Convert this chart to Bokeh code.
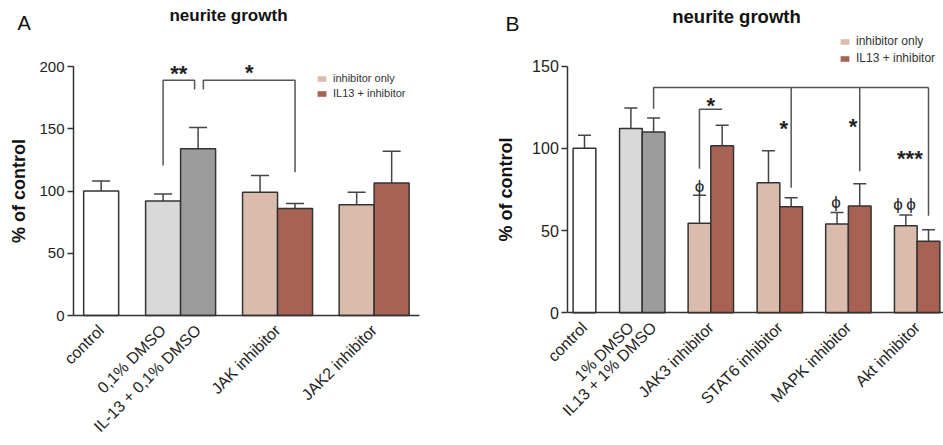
import math
from bokeh.plotting import figure
from bokeh.models import (ColumnDataSource, Whisker, TeeHead, Label, Legend, LegendItem,
                          FixedTicker, Range1d, CDSView, GroupFilter)
from bokeh.layouts import row
from bokeh.embed import file_html
from bokeh.resources import INLINE
from bokeh.core.properties import value

FONT = "Liberation Sans"

# ---------------- data: panel A ----------------
a_tick_labels = ["control", "0,1% DMSO", "IL-13 + 0,1% DMSO", "JAK inhibitor", "JAK2 inhibitor"]
a_means = [100, 92, 134, 99, 86, 89, 106.5]
a_sem = [8, 5.5, 17, 13.5, 4, 10, 25.5]
a_kind = ["control", "dmso", "il13_dmso", "inh", "il13_inh", "inh", "il13_inh"]
# significance brackets (bar index left, bar index right, top, left foot, right foot)
a_br_left = [1, 2]
a_br_right = [2, 4]
a_br_top = [189, 189]
a_br_left_foot = [120.5, 181.5]
a_br_right_foot = [181.5, 115]
a_sig_text = ["**", "*"]
a_sig_y = [194, 195]

# ---------------- data: panel B ----------------
b_tick_labels = ["control", "1% DMSO", "IL13 + 1% DMSO", "JAK3 inhibitor",
                 "STAT6 inhibitor", "MAPK inhibitor", "Akt inhibitor"]
b_means = [100, 112, 110, 54.5, 101.5, 79, 64.5, 54, 65, 53, 43.5]
b_sem = [8, 12.5, 8.5, 17, 12.5, 19.5, 5.5, 7, 13.5, 6.5, 7]
b_kind = ["control", "dmso", "il13_dmso", "inh", "il13_inh", "inh", "il13_inh",
          "inh", "il13_inh", "inh", "il13_inh"]
# long bracket from IL13+DMSO to the IL13+inhibitor bars
b_long_top = 137
b_long_from = 2
b_long_from_foot = 124
b_long_drop_bars = [6, 8, 10]
b_long_drop_feet = [76, 86, 59]
# JAK3 bracket
b_jak_bars = [3, 4]
b_jak_foot = 87.6
b_jak_top = 123.7
b_sig_text = ["*", "*", "*", "***"]
b_sig_bar = [3, 6, 8, 10]
b_sig_y = [126, 112, 113, 94]
b_phi_text = ["\u03d5", "\u03d5", "\u03d5\u2009\u03d5"]
b_phi_bar = [3, 7, 9]
b_phi_y = [77, 67, 66]

legend_labels = ["inhibitor only", "IL13 + inhibitor"]

# ---------------- styles / layout ----------------
COLORS = {"control": "#ffffff", "dmso": "#d9d9d9", "il13_dmso": "#9b9c9b",
          "inh": "#dbbcac", "il13_inh": "#a86253"}
EDGE = "#333333"
BR = "#555555"

a_x = [0.79, 2.56, 3.56, 5.33, 6.33, 8.09, 9.09]
a_ticks = [a_x[0], a_x[1], a_x[2], (a_x[3] + a_x[4]) / 2, (a_x[5] + a_x[6]) / 2]
b_x = [0.735, 2.78, 3.78, 5.80, 6.80, 8.84, 9.84, 11.86, 12.86, 14.89, 15.89]
b_ticks = [b_x[0], b_x[1], b_x[2]] + [(b_x[i] + b_x[i + 1]) / 2 for i in (3, 5, 7, 9)]

HEIGHT = 445


def make_panel(width, axis_px, axis_y, axis_len_px, bar_px, y_scale, ybounds, yticks,
               xs, means, sems, kinds, ticks, tick_labels, cap, ytick_size, xtick_size):
    # the frame covers the whole figure; both axes are pinned at 0
    x_axis_end = axis_len_px / bar_px
    p = figure(width=width, height=HEIGHT, output_backend="svg", toolbar_location=None,
               x_range=Range1d(-axis_px / bar_px, (width - axis_px) / bar_px),
               y_range=Range1d(-(HEIGHT - axis_y) / y_scale, axis_y / y_scale),
               min_border_left=0, min_border_right=0, min_border_top=0, min_border_bottom=0)
    p.outline_line_color = None
    p.grid.visible = False
    p.background_fill_color = "white"
    src = ColumnDataSource(dict(x=xs, top=means, upper=[m + s for m, s in zip(means, sems)],
                                color=[COLORS[k] for k in kinds], kind=kinds))
    p.vbar(x="x", top="top", width=1.0, bottom=0, source=src, fill_color="color",
           line_color=EDGE, line_width=1.5)
    w = Whisker(base="x", lower="top", upper="upper", source=src, dimension="height",
                line_color="#444444", line_width=1.5,
                upper_head=TeeHead(size=cap, line_color="#444444", line_width=1.5),
                lower_head=None)
    p.add_layout(w)

    # axes
    ya = p.yaxis[0]
    ya.fixed_location = 0
    ya.bounds = ybounds
    ya.ticker = FixedTicker(ticks=yticks)
    ya.minor_tick_line_color = None
    ya.major_tick_in = 0
    ya.major_tick_out = 6
    ya.axis_line_width = 1.5
    ya.axis_line_color = EDGE
    ya.major_tick_line_color = EDGE
    ya.major_tick_line_width = 1.5
    ya.major_label_text_font = FONT
    ya.major_label_text_font_size = ytick_size
    ya.major_label_text_color = "#222222"
    ya.major_label_standoff = 3
    ya.axis_label = "% of control"
    ya.axis_label_text_font = FONT
    ya.axis_label_text_font_style = "bold"
    ya.axis_label_text_font_size = "18px"
    ya.axis_label_text_color = "#111111"

    xa = p.xaxis[0]
    xa.fixed_location = 0
    xa.bounds = (0, x_axis_end)
    xa.ticker = FixedTicker(ticks=ticks)
    xa.major_label_overrides = {t: l for t, l in zip(ticks, tick_labels)}
    xa.major_label_orientation = math.pi / 4
    xa.major_tick_in = 0
    xa.major_tick_out = 0
    xa.minor_tick_line_color = None
    xa.axis_line_width = 1.5
    xa.axis_line_color = EDGE
    xa.major_label_text_font = FONT
    xa.major_label_text_font_size = xtick_size
    xa.major_label_text_color = "#222222"
    xa.major_label_standoff = 12
    return p, src


def add_text(p, xs, ys, texts, size, bold=True, color="#222222"):
    p.text(x=xs, y=ys, text=texts, text_font=value(FONT), text_font_size=size,
           text_font_style="bold" if bold else "normal", text_color=color,
           text_align="center", text_baseline="middle")


def add_legend(p, src, loc, size):
    rs = []
    for k in ("inh", "il13_inh"):
        r = p.vbar(x="x", top="top", width=1.0, source=src,
                   view=CDSView(filter=GroupFilter(column_name="kind", group=k)),
                   fill_color=COLORS[k], line_color=None)
        r.visible = False
        rs.append(r)
    lg = Legend(items=[LegendItem(label=legend_labels[0], renderers=[rs[0]]),
                       LegendItem(label=legend_labels[1], renderers=[rs[1]])],
                location=loc, orientation="vertical", padding=0, margin=0, spacing=3,
                glyph_width=11, glyph_height=7, label_height=10, label_standoff=6,
                label_text_font=FONT, label_text_font_size=size, label_text_color="#333333",
                inactive_fill_alpha=0, border_line_color=None, background_fill_alpha=0)
    p.add_layout(lg)


def add_label(p, x, page_y, text, size, bold, align):
    # x: pixels from the figure's left edge; page_y: pixels from the top of the page
    p.add_layout(Label(x=x, y=HEIGHT - page_y, x_units="screen", y_units="screen",
                       text=text, text_font=FONT, text_font_size=size,
                       text_font_style="bold" if bold else "normal", text_color="#111111",
                       text_align=align, text_baseline="middle"))


# ---------------- panel A ----------------
pa, sa = make_panel(470, 73, 315, 346, 35, 1.245, (0, 200), [0, 50, 100, 150, 200],
                    a_x, a_means, a_sem, a_kind, a_ticks, a_tick_labels, 18, "15px", "16px")
pa.yaxis[0].axis_label_standoff = 7
xs_br, ys_br = [], []
for l, r, top, lf, rf in zip(a_br_left, a_br_right, a_br_top, a_br_left_foot, a_br_right_foot):
    xl = a_x[l] + (0.15 if l == 2 else 0)
    xr_ = a_x[r] - (0.1 if r == 2 else 0)
    xs_br.append([xl, xl, xr_, xr_])
    ys_br.append([lf, top, top, rf])
pa.multi_line(xs=xs_br, ys=ys_br, line_color=BR, line_width=1.5)
add_text(pa, [(x[1] + x[2]) / 2 for x in xs_br], a_sig_y, a_sig_text, "22px")
add_legend(pa, sa, (316, HEIGHT - 99), "11px")
add_label(pa, 228, 15, "neurite growth", "17px", True, "center")
add_label(pa, 17, 22.5, "A", "20px", False, "left")

# ---------------- panel B ----------------
pb, sb = make_panel(473, 97.3, 312.3, 375.7, 22.7, 1.6447, (0, 150), [0, 50, 100, 150],
                    b_x, b_means, b_sem, b_kind, b_ticks, b_tick_labels, 13, "16px", "16px")
pb.yaxis[0].axis_label_standoff = 13
xs_b, ys_b = [], []
xl = b_x[b_long_from]
xr_ = b_x[b_long_drop_bars[-1]]
xs_b.append([xl, xl, xr_])
ys_b.append([b_long_from_foot, b_long_top, b_long_top])
for bi, ft in zip(b_long_drop_bars, b_long_drop_feet):
    xs_b.append([b_x[bi], b_x[bi]])
    ys_b.append([b_long_top, ft])
xs_b.append([b_x[b_jak_bars[0]], b_x[b_jak_bars[0]], b_x[b_jak_bars[1]]])
ys_b.append([b_jak_foot, b_jak_top, b_jak_top])
pb.multi_line(xs=xs_b, ys=ys_b, line_color=BR, line_width=1.5)
sig_off = [0.5, -0.32, -0.3, -0.82]
add_text(pb, [b_x[i] + o for i, o in zip(b_sig_bar, sig_off)], b_sig_y, b_sig_text, "22px")
phi_off = [0.0, -0.04, -0.06]
add_text(pb, [b_x[i] + o for i, o in zip(b_phi_bar, phi_off)], b_phi_y, b_phi_text, "17px",
         bold=False)
add_legend(pb, sb, (369, HEIGHT - 65), "12px")
add_label(pb, 266, 15.5, "neurite growth", "18.5px", True, "center")
add_label(pb, 35, 22.5, "B", "21px", False, "left")

layout = row(pa, pb)
open("out.html", "w").write(file_html(layout, INLINE))
